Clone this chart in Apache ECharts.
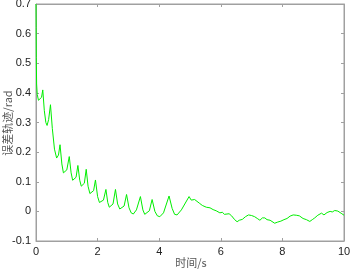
<!DOCTYPE html>
<html><head><meta charset="utf-8">
<script src="https://cdn.jsdelivr.net/npm/echarts@6/dist/echarts.min.js"></script>
<style>html,body{margin:0;padding:0;background:#fff}#c{width:350px;height:270px}</style>
</head><body><div id="c"></div>
<script>
const xLabel = '时间/s';
const yLabel = '误差轨迹/rad';
const xTicks = [0, 2, 4, 6, 8, 10];
const yTicks = [-0.1, 0, 0.1, 0.2, 0.3, 0.4, 0.5, 0.6, 0.7];
const tVals = [0,0.005,0.01,0.02,0.04,0.08,0.13,0.18,0.22,0.27,0.32,0.36,0.41,0.47,0.53,0.6,0.67,0.73,0.78,0.84,0.89,0.93,1.0,1.08,1.14,1.19,1.24,1.3,1.36,1.42,1.47,1.51,1.57,1.63,1.69,1.75,1.81,1.87,1.93,2.0,2.06,2.12,2.19,2.27,2.33,2.38,2.43,2.5,2.58,2.65,2.72,2.78,2.86,2.94,3.02,3.09,3.16,3.26,3.39,3.47,3.53,3.59,3.68,3.77,3.86,3.94,4.02,4.14,4.32,4.42,4.5,4.58,4.72,4.97,5.04,5.09,5.15,5.2,5.3,5.4,5.53,5.65,5.75,5.85,5.97,6.05,6.12,6.18,6.27,6.35,6.45,6.53,6.6,6.7,6.8,6.9,7.0,7.1,7.2,7.27,7.35,7.43,7.5,7.6,7.75,7.85,7.95,8.05,8.15,8.25,8.35,8.45,8.55,8.67,8.78,8.89,8.97,9.05,9.15,9.27,9.35,9.45,9.55,9.62,9.7,9.8,9.86,9.93,10.0];
const errVals = [0.70,0.62,0.52,0.43,0.395,0.375,0.37,0.385,0.41,0.34,0.30,0.29,0.31,0.36,0.28,0.21,0.18,0.19,0.225,0.16,0.13,0.125,0.14,0.185,0.13,0.105,0.10,0.115,0.155,0.105,0.085,0.08,0.095,0.142,0.085,0.06,0.055,0.07,0.106,0.05,0.03,0.025,0.038,0.074,0.03,0.014,0.011,0.025,0.074,0.025,0.008,0.005,0.018,0.057,0.012,-0.005,-0.009,0.005,0.05,0.005,-0.01,-0.012,0.002,0.04,0.0,-0.015,-0.018,-0.005,0.052,0.01,-0.01,-0.012,0.005,0.05,0.038,0.035,0.04,0.038,0.028,0.02,0.014,0.012,0.006,0.002,-0.005,-0.003,-0.01,-0.011,-0.008,-0.015,-0.028,-0.035,-0.03,-0.027,-0.018,-0.012,-0.014,-0.018,-0.025,-0.03,-0.022,-0.022,-0.028,-0.03,-0.04,-0.036,-0.033,-0.028,-0.024,-0.016,-0.012,-0.013,-0.015,-0.024,-0.028,-0.034,-0.028,-0.022,-0.013,-0.006,-0.012,-0.004,0.0,-0.002,0.003,0.001,0.0,-0.008,-0.013];

const data = tVals.map((t, i) => [t, errVals[i]]);
const axisCol = '#a0a0a0';
const fmt = v => { const r = Math.round(v * 10) / 10; return r === 0 ? '0' : String(r); };
const line = {show: true, onZero: false, lineStyle: {color: axisCol, width: 1}};
const tick = {show: true, inside: true, length: 3, lineStyle: {color: axisCol}};
const chart = echarts.init(document.getElementById('c'), null, {renderer: 'canvas'});
chart.setOption({
  animation: false,
  grid: {left: 36, right: 6, top: 4, bottom: 29, containLabel: false, outerBoundsMode: 'none',
         show: true, borderColor: axisCol, borderWidth: 1, backgroundColor: 'transparent'},
  graphic: [
    {type: 'text', x: 191, y: 263,
     style: {text: xLabel, fill: '#555', font: '11px "Noto Sans CJK SC"', align: 'center', verticalAlign: 'middle'}},
    {type: 'text', x: 8, y: 123, rotation: Math.PI / 2,
     style: {text: yLabel, fill: '#555', font: '11px "Noto Sans CJK SC"', align: 'center', verticalAlign: 'middle'}}
  ],
  xAxis: [{
    type: 'value', min: xTicks[0], max: xTicks[xTicks.length - 1], interval: 2,
    axisLine: line, axisTick: tick,
    axisLabel: {color: '#222', fontSize: 11, fontFamily: 'Liberation Sans', margin: 5, formatter: fmt},
    splitLine: {show: false}
  }, {
    type: 'value', position: 'top', min: 0, max: 10, interval: 2,
    axisLine: line, axisTick: tick,
    axisLabel: {show: false}, splitLine: {show: false}
  }],
  yAxis: [{
    type: 'value', min: yTicks[0], max: yTicks[yTicks.length - 1], interval: 0.1,
    axisLine: line, axisTick: tick,
    axisLabel: {color: '#222', fontSize: 11, fontFamily: 'Liberation Sans', margin: 5, formatter: fmt},
    splitLine: {show: false}
  }, {
    type: 'value', position: 'right', min: -0.1, max: 0.7, interval: 0.1,
    axisLine: line, axisTick: tick,
    axisLabel: {show: false}, splitLine: {show: false}
  }],
  series: [{
    type: 'line', data: data, xAxisIndex: 0, yAxisIndex: 0,
    showSymbol: false, symbol: 'none',
    lineStyle: {color: '#00ee00', width: 1}
  }, {
    type: 'line', data: [], xAxisIndex: 1, yAxisIndex: 1, symbol: 'none', silent: true
  }]
});
</script></body></html>
